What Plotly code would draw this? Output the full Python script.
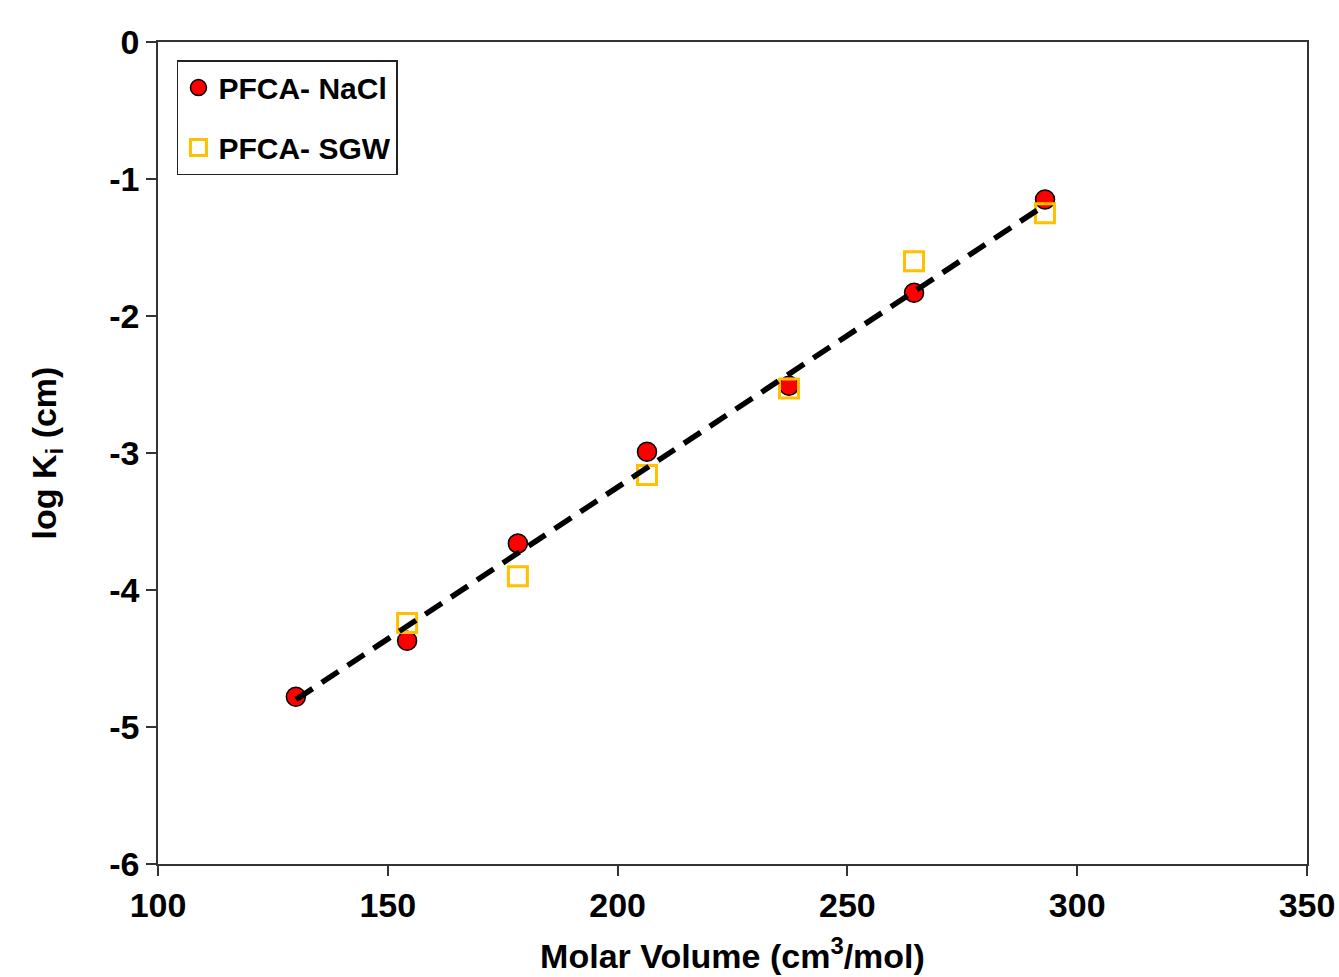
import plotly.graph_objects as go

# Data
nacl_x = [130.0, 154.2, 178.3, 206.4, 237.3, 264.5, 293.0]
nacl_y = [-4.78, -4.37, -3.66, -2.99, -2.51, -1.83, -1.15]
sgw_x = [154.2, 178.3, 206.4, 237.3, 264.5, 293.0]
sgw_y = [-4.24, -3.90, -3.16, -2.53, -1.60, -1.25]
fit_x = [130.0, 293.0]
fit_y = [-4.80, -1.19]
x_ticks = [100, 150, 200, 250, 300, 350]
y_ticks = [0, -1, -2, -3, -4, -5, -6]
y_tick_text = ["0", "-1", "-2", "-3", "-4", "-5", "-6"]

FONT = "Liberation Sans, Arial, sans-serif"

fig = go.Figure()
fig.add_trace(go.Scatter(
    x=nacl_x, y=nacl_y, mode="markers", name="PFCA- NaCl", legendgroup="a",
    marker=dict(symbol="circle", size=19, color="#FF0000",
                line=dict(color="#000000", width=1.5)),
))
fig.add_trace(go.Scatter(
    x=sgw_x, y=sgw_y, mode="markers", name="PFCA- SGW", legendgroup="b",
    marker=dict(symbol="square-open", size=19, color="#FFC000",
                line=dict(color="#FFC000", width=3)),
))
fig.add_trace(go.Scatter(
    x=fit_x, y=fit_y, mode="lines", showlegend=False,
    line=dict(color="#000000", width=5.5, dash="20px,11px"),
))

fig.update_layout(
    width=1339, height=977,
    margin=dict(l=158, r=32, t=42, b=113),
    paper_bgcolor="white", plot_bgcolor="white",
    font=dict(family=FONT, color="#000000", size=28),
    showlegend=True,
    legend=dict(
        x=0.0165, y=0.978, xanchor="left", yanchor="top",
        bgcolor="white", bordercolor="#222222", borderwidth=1.5,
        font=dict(family=FONT, size=30, color="#000000", weight="bold"),
        tracegroupgap=18, itemsizing="trace",
    ),
    xaxis=dict(
        range=[100, 350], tickvals=x_ticks, ticks="outside", ticklen=10,
        tickwidth=1.5, tickcolor="#333333", automargin=False,
        ticklabeloverflow="allow",
        showline=True, linecolor="#333333", linewidth=1.5, mirror=True,
        showgrid=False, zeroline=False,
        tickfont=dict(family=FONT, size=34, weight="bold"),
        title=dict(text="Molar Volume (cm<sup>3</sup>/mol)",
                   font=dict(family=FONT, size=34, weight="bold"), standoff=22),
    ),
    yaxis=dict(
        range=[-6, 0], tickvals=y_ticks, ticktext=y_tick_text, ticks="outside",
        ticklen=10, tickwidth=1.5, tickcolor="#333333", automargin=False,
        showline=True, linecolor="#333333", linewidth=1.5, mirror=True,
        showgrid=False, zeroline=False,
        tickfont=dict(family=FONT, size=34, weight="bold"),
        title=dict(text="log K<sub>i</sub> (cm)",
                   font=dict(family=FONT, size=34, weight="bold"), standoff=42),
    ),
)

fig.write_html("out.html")
